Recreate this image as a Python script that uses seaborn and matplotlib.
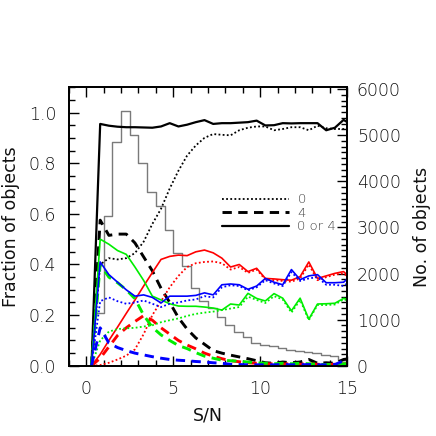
import numpy as np
import pandas as pd
import matplotlib
matplotlib.use("Agg")
import matplotlib.pyplot as plt
import seaborn as sns
from matplotlib.lines import Line2D
from matplotlib.ticker import MultipleLocator

sns.set_style("ticks")
plt.rcParams['font.family'] = ['DejaVu Sans']
plt.rcParams['font.weight'] = 'light'

# S/N sample points of the fraction curves
sn = [0.3, 0.8, 1.3, 1.8, 2.3, 2.8, 3.3, 3.8, 4.3, 4.8, 5.3, 5.8, 6.3, 6.8, 7.3,
      7.8, 8.3, 8.8, 9.3, 9.8, 10.3, 10.8, 11.3, 11.8, 12.3, 12.8, 13.3, 13.8,
      14.3, 14.8, 15.3]

# black: all objects
black_any = [0.0, 0.955, 0.948, 0.944, 0.942, 0.942, 0.941, 0.94, 0.945, 0.958, 0.945,
             0.952, 0.962, 0.97, 0.955, 0.958, 0.958, 0.96, 0.962, 0.968, 0.949, 0.95,
             0.958, 0.957, 0.958, 0.958, 0.958, 0.93, 0.94, 0.971, 0.95]
black_0 = [0.0, 0.40, 0.425, 0.42, 0.425, 0.445, 0.49, 0.56, 0.62, 0.70, 0.77,
           0.83, 0.87, 0.90, 0.915, 0.912, 0.91, 0.93, 0.94, 0.945, 0.945, 0.93,
           0.935, 0.942, 0.942, 0.93, 0.948, 0.938, 0.935, 0.935, 0.93]
black_4 = [0.0, 0.575, 0.515, 0.52, 0.52, 0.485, 0.43, 0.375, 0.306, 0.25, 0.19,
           0.145, 0.11, 0.085, 0.06, 0.05, 0.042, 0.035, 0.028, 0.02, 0.012, 0.01,
           0.015, 0.012, 0.015, 0.025, 0.01, 0.012, 0.01, 0.025, 0.03]

# red
red_any = [0.0, 0.045, 0.10, 0.153, 0.207, 0.26, 0.315, 0.368, 0.42, 0.432, 0.437,
           0.435, 0.45, 0.457, 0.446, 0.425, 0.39, 0.40, 0.372, 0.385, 0.345, 0.343,
           0.34, 0.338, 0.352, 0.41, 0.345, 0.355, 0.365, 0.372, 0.34]
red_0 = [0.0, 0.003, 0.012, 0.025, 0.04, 0.065, 0.125, 0.20, 0.255, 0.31, 0.355,
         0.39, 0.405, 0.41, 0.412, 0.405, 0.38, 0.39, 0.367, 0.38, 0.341, 0.338,
         0.335, 0.332, 0.345, 0.40, 0.338, 0.35, 0.36, 0.365, 0.335]
red_4 = [0.0, 0.03, 0.075, 0.12, 0.15, 0.175, 0.198, 0.18, 0.15, 0.125, 0.10,
         0.082, 0.067, 0.05, 0.038, 0.028, 0.02, 0.016, 0.012, 0.01, 0.008, 0.008,
         0.007, 0.008, 0.006, 0.008, 0.006, 0.005, 0.006, 0.008, 0.01]

# green
green_any = [0.0, 0.50, 0.48, 0.455, 0.44, 0.39, 0.337, 0.275, 0.26, 0.245, 0.236,
             0.235, 0.235, 0.232, 0.228, 0.22, 0.244, 0.24, 0.286, 0.266, 0.256,
             0.285, 0.267, 0.217, 0.267, 0.184, 0.244, 0.245, 0.247, 0.266, 0.26]
green_0 = [0.0, 0.10, 0.135, 0.145, 0.148, 0.15, 0.155, 0.16, 0.172, 0.18, 0.187,
           0.197, 0.205, 0.21, 0.214, 0.22, 0.226, 0.232, 0.273, 0.26, 0.248, 0.275,
           0.262, 0.21, 0.26, 0.18, 0.24, 0.24, 0.242, 0.262, 0.255]
green_4 = [0.0, 0.40, 0.35, 0.328, 0.30, 0.265, 0.20, 0.152, 0.122, 0.10, 0.08,
           0.068, 0.052, 0.038, 0.03, 0.022, 0.02, 0.018, 0.015, 0.012, 0.01, 0.008,
           0.01, 0.008, 0.01, 0.008, 0.006, 0.005, 0.005, 0.008, 0.01]

# blue
blue_any = [0.0, 0.41, 0.36, 0.33, 0.30, 0.275, 0.28, 0.27, 0.248, 0.275, 0.275,
            0.275, 0.278, 0.288, 0.28, 0.32, 0.323, 0.32, 0.302, 0.315, 0.345, 0.33,
            0.32, 0.38, 0.34, 0.355, 0.36, 0.328, 0.328, 0.33, 0.36]
blue_0 = [0.0, 0.255, 0.27, 0.255, 0.245, 0.25, 0.258, 0.245, 0.232, 0.245, 0.25,
          0.258, 0.262, 0.275, 0.27, 0.31, 0.318, 0.315, 0.298, 0.31, 0.338, 0.325,
          0.315, 0.37, 0.335, 0.345, 0.35, 0.32, 0.32, 0.315, 0.34]
blue_4 = [0.0, 0.15, 0.09, 0.072, 0.06, 0.05, 0.043, 0.036, 0.03, 0.025, 0.022,
          0.02, 0.017, 0.015, 0.012, 0.01, 0.006, 0.005, 0.004, 0.004, 0.004, 0.004,
          0.005, 0.004, 0.004, 0.005, 0.004, 0.004, 0.005, 0.02, 0.035]

# histogram of object counts (0.5-wide S/N bins)
bin_edges = [0.5, 1.0, 1.5, 2.0, 2.5, 3.0, 3.5, 4.0, 4.5, 5.0, 5.5, 6.0, 6.5, 7.0,
             7.5, 8.0, 8.5, 9.0, 9.5, 10.0, 10.5, 11.0, 11.5, 12.0, 12.5, 13.0,
             13.5, 14.0, 14.5, 15.0]
counts = [1150, 3240, 4860, 5525, 5010, 4395, 3775, 3470, 2935, 2435, 2174, 1693,
          1398, 1254, 1059, 876, 733, 620, 493, 457, 420, 385, 350, 320, 290, 275,
          240, 205, 130]

curves = [
    (black_0, 'black', 'dot'), (black_4, 'black', 'dash'), (black_any, 'black', 'solid'),
    (red_0, 'red', 'dot'), (red_4, 'red', 'dash'), (red_any, 'red', 'solid'),
    (green_0, 'green', 'dot'), (green_4, 'green', 'dash'), (green_any, 'green', 'solid'),
    (blue_0, 'blue', 'dot'), (blue_4, 'blue', 'dash'), (blue_any, 'blue', 'solid'),
]
colors = {'black': 'black', 'red': '#ff0000', 'green': '#00ee00', 'blue': '#0000ff'}
styles = {'dot': ((0, (1, 1.3)), 1.3), 'dash': ((0, (3.2, 2.2)), 2.1), 'solid': ('-', 1.2)}

fig = plt.figure(figsize=(4.36, 4.36), dpi=100)
ax = fig.add_axes([0.158, 0.161, 0.638, 0.639])
ax2 = ax.twinx()

centers = [(a + b) / 2 for a, b in zip(bin_edges[:-1], bin_edges[1:])]
sns.histplot(x=centers, weights=counts, bins=bin_edges, element='step', fill=False,
             color='#7a7a7a', linewidth=1.0, ax=ax2)

for vals, col, st in curves:
    ls, lw = styles[st]
    lw_use = lw + 0.4 if (col == 'black' and st == 'solid') else lw
    sns.lineplot(x=sn, y=vals, color=colors[col], linestyle=ls, linewidth=lw_use, ax=ax)

ax.set_zorder(ax2.get_zorder() + 1)
ax.patch.set_visible(False)

ax.set_xlim(-1, 15)
ax.set_ylim(0, 1.1)
ax2.set_ylim(0, 6040)

ax.xaxis.set_major_locator(MultipleLocator(5))
ax.xaxis.set_minor_locator(MultipleLocator(1))
ax.yaxis.set_major_locator(MultipleLocator(0.2))
ax.yaxis.set_minor_locator(MultipleLocator(0.05))
ax2.yaxis.set_major_locator(MultipleLocator(1000))
ax2.yaxis.set_minor_locator(MultipleLocator(125))
ax.set_yticks([0, 0.2, 0.4, 0.6, 0.8, 1.0])
ax.set_yticklabels(['0.0', '0.2', '0.4', '0.6', '0.8', '1.0'])

txt = '#111111'
ax.tick_params(axis='x', which='both', direction='in', top=True, bottom=True,
               labelsize=12.5, pad=10, colors=txt)
ax.tick_params(axis='y', which='both', direction='in', left=True, right=False,
               labelsize=12.5, pad=9, colors=txt)
ax.tick_params(which='major', length=7, width=1, color='black')
ax.tick_params(which='minor', length=4, width=1, color='black')
ax2.tick_params(axis='y', which='both', direction='in', labelsize=12.5, pad=7,
                colors=txt)
ax2.tick_params(which='major', length=7, width=1, color='black')
ax2.tick_params(which='minor', length=4, width=1, color='black')

for a in (ax, ax2):
    for s in a.spines.values():
        s.set_linewidth(1.3)
        s.set_color('black')

ax.set_xlabel('S/N', fontsize=12.5, color=txt, labelpad=6)
ax.set_ylabel('Fraction of objects', fontsize=12.5, color=txt, labelpad=6)
ax2.set_ylabel('No. of objects', fontsize=12.5, color=txt, labelpad=9)

handles = [Line2D([], [], color='black', linestyle=styles[k][0], linewidth=styles[k][1] + (0.4 if k == 'solid' else 0))
           for k in ('dot', 'dash', 'solid')]
ax.legend(handles, ['0', '4', '0 or 4'], loc='upper left', bbox_to_anchor=(0.53, 0.638),
          frameon=False, fontsize=9.5, handlelength=5.1, handletextpad=0.65,
          labelspacing=0.11, labelcolor='#444444', borderaxespad=0)

fig.savefig('out.png', dpi=100)
